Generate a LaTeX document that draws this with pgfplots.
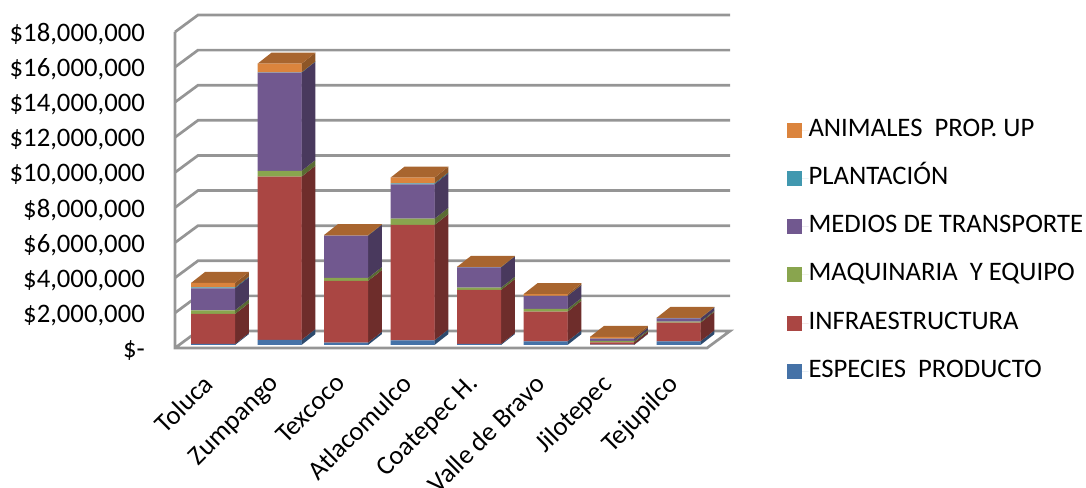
\documentclass[border=0pt]{standalone}
\usepackage{pgfplots}
\usepackage{pgfplotstable}
\usepackage{fontspec}
\setmainfont{Carlito}
\pgfplotsset{compat=1.18}
\definecolor{cEsp}{HTML}{4572A7}\definecolor{cInf}{HTML}{AA4643}\definecolor{cMaq}{HTML}{89A54E}
\definecolor{cMed}{HTML}{71588F}\definecolor{cPla}{HTML}{4198AF}\definecolor{cAni}{HTML}{DB843D}
\definecolor{sEsp}{HTML}{2D4A6D}\definecolor{sInf}{HTML}{6E2D2B}\definecolor{sMaq}{HTML}{596B32}
\definecolor{sMed}{HTML}{49395D}\definecolor{sPla}{HTML}{2A6271}\definecolor{sAni}{HTML}{8E5627}
\definecolor{tAni}{HTML}{A8652F}\definecolor{wall}{HTML}{959595}
\pgfplotstableread{
idx ESP INF MAQ MED PLA ANI
0 57000 1709000 211000 1253000 46000 256000
1 285000 9302000 325000 5599000 17000 496000
2 131000 3515000 171000 2410000 6000 28000
3 268000 6568000 359000 1960000 57000 319000
4 57000 3076000 131000 1162000 6000 17000
5 211000 1686000 154000 741000 6000 97000
6 17000 137000 74000 131000 6000 97000
7 211000 1060000 57000 194000 6000 17000
}\datatable
% bar geometry in data units (66.5 px per category, 17.556 px per million)
\def\hw{0.3308}\def\shx{0.0714}\def\ddx{0.2105}
\def\ybase{171000}\def\ddy{626600}
\newcommand\seg[2]{%
  \pgfplotstablegetelem{\row}{#1}\of\datatable
  \begingroup
  \pgfkeys{/pgf/fpu=true,/pgf/fpu/output format=fixed}%
  \pgfmathparse{\cum+\pgfplotsretval}\xdef\cumnew{\pgfmathresult}%
  \pgfmathparse{\cum+\ddy}\xdef\cumd{\pgfmathresult}%
  \pgfmathparse{\cumnew+\ddy}\xdef\cumnewd{\pgfmathresult}%
  \endgroup
  \edef\tmp{\noexpand\addplot[fill=#2,draw=none,forget plot] coordinates
    {(\xr,\cum)(\xrb,\cumd)(\xrb,\cumnewd)(\xr,\cumnew)} --cycle;}\tmp
  \xdef\cum{\cumnew}%
}
\newcommand\faces[1]{%
  \def\row{#1}%
  \pgfmathsetmacro\xl{#1+\shx-\hw}%
  \pgfmathsetmacro\xr{#1+\shx+\hw}%
  \pgfmathsetmacro\xlb{\xl+\ddx}%
  \pgfmathsetmacro\xrb{\xr+\ddx}%
  \xdef\cum{\ybase}%
  \seg{ESP}{sEsp}\seg{INF}{sInf}\seg{MAQ}{sMaq}\seg{MED}{sMed}\seg{PLA}{sPla}\seg{ANI}{sAni}%
  \edef\tmp{\noexpand\addplot[fill=tAni,draw=none,forget plot] coordinates
    {(\xl,\cum)(\xlb,\cumnewd)(\xrb,\cumnewd)(\xr,\cum)} --cycle;}\tmp
}
\pgfplotsset{lg/.style={legend image code/.code={\fill[##1] (0pt,-7.5pt) rectangle (15pt,7.5pt);\path (0pt,0pt) -- (21.5pt,0pt);}}}
\begin{document}
\begin{tikzpicture}[x=1pt,y=1pt]
\useasboundingbox (0,0) rectangle (1086,487);
\begin{axis}[
  at={(175pt,139pt)},anchor=south west,
  scale only axis,width=532pt,height=316pt,
  xmin=-0.5,xmax=7.5,ymin=0,ymax=18000000,
  clip=false,
  axis line style={draw=none},
  major tick length=0pt,
  scaled y ticks=false,
  ytick={0,2000000,4000000,6000000,8000000,10000000,12000000,14000000,16000000,18000000},
  yticklabels={{\$-\hspace{13pt}},{\$2,000,000},{\$4,000,000},{\$6,000,000},{\$8,000,000},{\$10,000,000},{\$12,000,000},{\$14,000,000},{\$16,000,000},{\$18,000,000}},
  xtick={0,1,2,3,4,5,6,7},
  xticklabels={Toluca,Zumpango,Texcoco,Atlacomulco,Coatepec H.,Valle de Bravo,Jilotepec,Tejupilco},
  yticklabel style={font=\fontsize{26.7}{30}\selectfont,anchor=east,inner sep=0pt,xshift=-30pt,yshift=-2.5pt},
  xticklabel style={font=\fontsize{26.7}{30}\selectfont,rotate=45,anchor=north east,inner sep=0pt,xshift=-22.4pt,yshift=-12.4pt},
]
\addplot[wall,line width=2.7pt,forget plot] coordinates {(-0.5,18000000)(-0.5,0)(7.5,0)(7.846,968000)(-0.154,968000)(-0.5,0)};
\addplot[wall,line width=2.7pt,forget plot] coordinates {(-0.5,2000000)(-0.154,2968000)(7.846,2968000)};
\addplot[wall,line width=2.7pt,forget plot] coordinates {(-0.5,4000000)(-0.154,4968000)(7.846,4968000)};
\addplot[wall,line width=2.7pt,forget plot] coordinates {(-0.5,6000000)(-0.154,6968000)(7.846,6968000)};
\addplot[wall,line width=2.7pt,forget plot] coordinates {(-0.5,8000000)(-0.154,8968000)(7.846,8968000)};
\addplot[wall,line width=2.7pt,forget plot] coordinates {(-0.5,10000000)(-0.154,10968000)(7.846,10968000)};
\addplot[wall,line width=2.7pt,forget plot] coordinates {(-0.5,12000000)(-0.154,12968000)(7.846,12968000)};
\addplot[wall,line width=2.7pt,forget plot] coordinates {(-0.5,14000000)(-0.154,14968000)(7.846,14968000)};
\addplot[wall,line width=2.7pt,forget plot] coordinates {(-0.5,16000000)(-0.154,16968000)(7.846,16968000)};
\addplot[wall,line width=2.7pt,forget plot] coordinates {(-0.5,18000000)(-0.154,18968000)(7.846,18968000)};
\faces{0}\faces{1}\faces{2}\faces{3}\faces{4}\faces{5}\faces{6}\faces{7}
\end{axis}
\begin{axis}[
  at={(179.75pt,142pt)},anchor=south west,
  scale only axis,width=532pt,height=316pt,
  xmin=-0.5,xmax=7.5,ymin=0,ymax=18000000,
  clip=false,
  axis line style={draw=none},
  major tick length=0pt,xtick=\empty,ytick=\empty,
  ybar stacked,bar width=44pt,
  reverse legend,
  legend cell align=left,
  legend style={at={(1.1415,0.714)},anchor=north west,draw=none,fill=none,inner sep=0pt,outer sep=0pt,
    row sep=26.2pt,font=\fontsize{26.7}{30}\selectfont,
    nodes={inner sep=0pt,text height=17pt,text depth=5pt}},
]
\addplot[fill=cEsp,draw=none,lg] table[x=idx,y=ESP]{\datatable};
\addplot[fill=cInf,draw=none,lg] table[x=idx,y=INF]{\datatable};
\addplot[fill=cMaq,draw=none,lg] table[x=idx,y=MAQ]{\datatable};
\addplot[fill=cMed,draw=none,lg] table[x=idx,y=MED]{\datatable};
\addplot[fill=cPla,draw=none,lg] table[x=idx,y=PLA]{\datatable};
\addplot[fill=cAni,draw=none,lg] table[x=idx,y=ANI]{\datatable};
\legend{ESPECIES\ \ PRODUCTO,INFRAESTRUCTURA,MAQUINARIA\ \ Y EQUIPO,MEDIOS DE TRANSPORTE,PLANTACIÓN,ANIMALES\ \ PROP. UP}
\end{axis}
\end{tikzpicture}
\end{document}
